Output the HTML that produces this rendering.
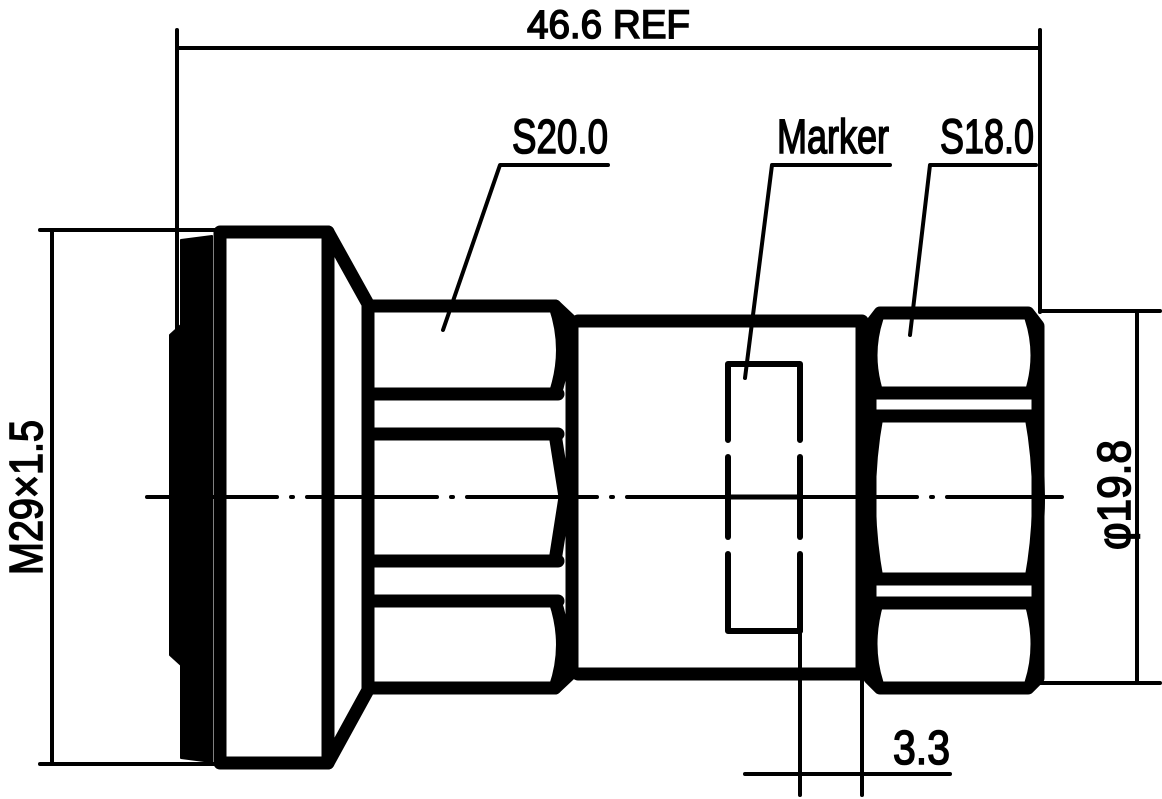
<!DOCTYPE html>
<html><head><meta charset="utf-8"><style>
html,body{margin:0;padding:0;background:#fff;width:1162px;height:799px;overflow:hidden}
svg text{font-family:"Liberation Sans",sans-serif;fill:#000;stroke:#000;stroke-width:1.6}
</style></head><body>
<svg width="1162" height="799" viewBox="0 0 1162 799" xmlns="http://www.w3.org/2000/svg">
<g fill="none" stroke="#000" stroke-linecap="round" stroke-linejoin="round">
<g stroke-width="4">
<line x1="177" y1="30" x2="177" y2="330"/>
<line x1="1040" y1="30" x2="1040" y2="312"/>
<line x1="177" y1="48" x2="1040" y2="48"/>
<line x1="40" y1="230" x2="215" y2="230"/>
<line x1="40" y1="764" x2="215" y2="764"/>
<line x1="52" y1="230" x2="52" y2="764"/>
<line x1="1040" y1="311" x2="1160" y2="311"/>
<line x1="1040" y1="683" x2="1160" y2="683"/>
<line x1="1137" y1="311" x2="1137" y2="683"/>
<line x1="800" y1="632" x2="800" y2="795"/>
<line x1="862" y1="680" x2="862" y2="795"/>
<line x1="745" y1="774" x2="950" y2="774"/>
<polyline points="443,330 500,165 608,165"/>
<polyline points="745,378 772,165 890,165"/>
<polyline points="910,335 930,165 1036,165"/>
</g>
<line x1="147" y1="497" x2="1062" y2="497" stroke-width="4" stroke-dasharray="130,14,2,14"/>
<line x1="728" y1="497" x2="800" y2="497" stroke-width="5"/>
<path d="M181,240 L212,236 L212,762 L181,758 L181,665 L170,655 L170,335 L181,325 Z" fill="#000" stroke-width="2"/>
<g stroke-width="13">
<polyline points="220,232 328,232 368,304 368,690 328,763 220,763 220,232"/>
<line x1="328" y1="232" x2="328" y2="763"/>
<polyline points="372,306 555,306 572,322 572,672 555,688 372,688"/>
<line x1="372" y1="394" x2="558" y2="394"/>
<line x1="372" y1="434" x2="558" y2="434"/>
<line x1="372" y1="561" x2="558" y2="561"/>
<line x1="372" y1="601" x2="558" y2="601"/>
<path d="M555,306 Q570,350 555,394 M555,434 L565,497 L555,561 M555,601 Q570,645 555,688"/>
<polyline points="578,321 862,321 862,674 578,674"/>
<path d="M880,313 L1028,313 L1038,326 L1038,678 L1028,688 L880,688 L870,678 L870,326 Z"/>
<line x1="875" y1="393" x2="1030" y2="393"/>
<line x1="875" y1="416" x2="1030" y2="416"/>
<line x1="875" y1="579" x2="1030" y2="579"/>
<line x1="875" y1="603" x2="1030" y2="603"/>
<path d="M877,318 Q865,355 877,393 M1031,318 Q1043,355 1031,393 M877,416 Q862,497 877,579 M1031,416 Q1046,497 1031,579 M877,603 Q865,645 877,683 M1031,603 Q1043,645 1031,683"/>
</g>
<g stroke-width="6">
<polyline points="728,440 728,364 800,364 800,440"/>
<line x1="728" y1="457" x2="728" y2="537"/>
<line x1="800" y1="457" x2="800" y2="537"/>
<polyline points="728,554 728,631 800,631"/>
<line x1="800" y1="554" x2="800" y2="631"/>
</g>
</g>
<text x="527" y="38" font-size="40" textLength="163" lengthAdjust="spacingAndGlyphs">46.6 REF</text>
<text x="512" y="153" font-size="48" textLength="96" lengthAdjust="spacingAndGlyphs">S20.0</text>
<text x="777" y="153" font-size="48" textLength="112" lengthAdjust="spacingAndGlyphs">Marker</text>
<text x="940" y="153" font-size="48" textLength="94" lengthAdjust="spacingAndGlyphs">S18.0</text>
<text x="893" y="764" font-size="48" textLength="57" lengthAdjust="spacingAndGlyphs">3.3</text>
<text transform="translate(42,575) rotate(-90)" font-size="46" textLength="155" lengthAdjust="spacingAndGlyphs">M29×1.5</text>
<text transform="translate(1130,550) rotate(-90)" font-size="46" textLength="110" lengthAdjust="spacingAndGlyphs">φ19.8</text>
</svg>
</body></html>
